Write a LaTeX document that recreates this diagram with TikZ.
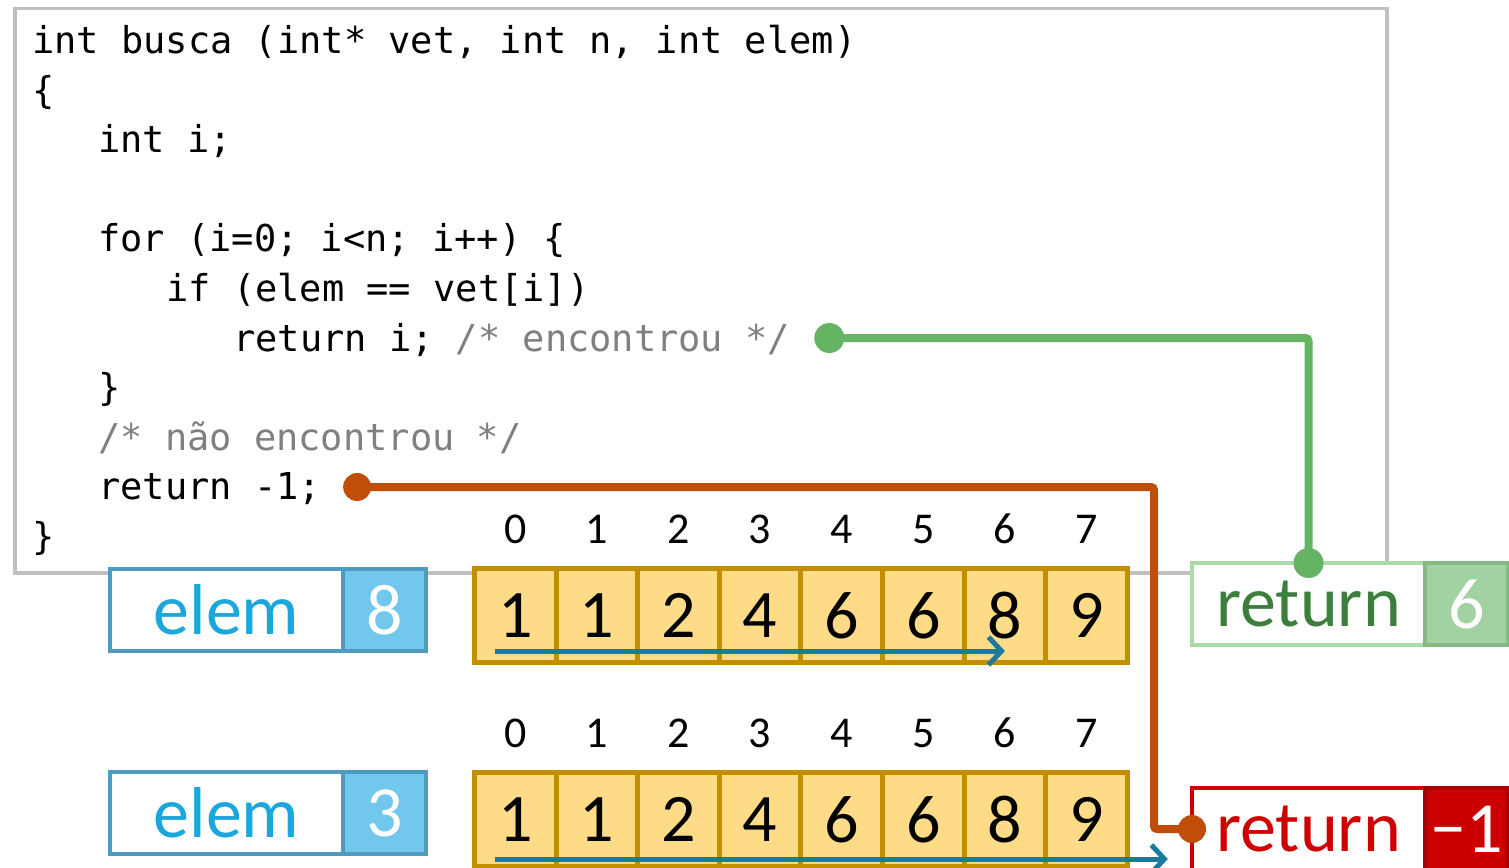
\documentclass[tikz,border=0pt]{standalone}
\usepackage{fontspec}
\setmainfont{Carlito}
\setmonofont{DejaVu Sans Mono}
\usetikzlibrary{arrows.meta,positioning,calc}

\definecolor{codegray}{HTML}{C0C0C0}
\definecolor{cmtgray}{HTML}{808080}
\definecolor{elemblue}{HTML}{1BA6DE}
\definecolor{elemedge}{HTML}{4E9BBF}
\definecolor{elemfill}{HTML}{72C8EC}
\definecolor{cellfill}{HTML}{FEDB86}
\definecolor{celledge}{HTML}{C38F00}
\definecolor{scanblue}{HTML}{1D7A9E}
\definecolor{okgreen}{HTML}{64B464}
\definecolor{okdark}{HTML}{3C7F3C}
\definecolor{okedge}{HTML}{A9DCA9}
\definecolor{okfill}{HTML}{A2D2A2}
\definecolor{failred}{HTML}{D00000}
\definecolor{failfill}{HTML}{CC0000}
\definecolor{wireorange}{HTML}{C04E08}

\begin{document}
\begin{tikzpicture}[
    x=1pt, y=-1pt,
    >={Straight Barb[length=13pt,width=28pt]},
    code/.style={anchor=base west, inner sep=0pt, font=\ttfamily\fontsize{37}{44}\selectfont},
    big/.style={font=\fontsize{72}{80}\selectfont},
    lblbox/.style={draw, line width=3.5pt, fill=white, minimum width=233pt, outer sep=0pt,
        minimum height=82pt, inner sep=0pt, big, anchor=north west},
    valbox/.style={draw, line width=3.5pt, minimum width=83pt, minimum height=82pt,
        outer sep=0pt, inner sep=0pt, big, text=white, anchor=west},
    cell/.style={draw=celledge, line width=5pt, fill=cellfill, minimum width=81.6pt,
        minimum height=94pt, inner sep=0pt, font=\fontsize{68}{76}\selectfont, anchor=north west},
    idx/.style={inner sep=0pt, font=\fontsize{44}{50}\selectfont},
    wire/.style={line width=8pt, rounded corners=3pt},
    scan/.style={->, draw=scanblue, line width=5pt},
]
\useasboundingbox (0,0) rectangle (1509,867);

% codigo da funcao
\node[draw=codegray, line width=3.5pt, fill=white, minimum width=1372pt,
      minimum height=564pt, inner sep=0pt, anchor=north west] (codebox) at (13,7) {};
\node[code] (l0) at (32,53) {int busca (int* vet, int n, int elem)};
\node[code] (l1) at (32,103) {\{};
\node[code] (l2) at (98,152) {int i;};
\node[code] (l4) at (98,251) {for (i=0; i<n; i++) \{};
\node[code] (l5) at (166,301) {if (elem == vet[i])};
\node[code] (l6) at (233,351) {return i; {\color{cmtgray}/* encontrou */}};
\node[code] (l7) at (98,400) {\}};
\node[code] (l8) at (98,450) {\color{cmtgray}/* não encontrou */};
\node[code] (l9) at (98,499) {return -1;};
\node[code] (l10) at (32,549) {\}};

% primeira busca: elem = 8
\node[lblbox, draw=elemedge, text=elemblue] (e1) at (110,569) {elem};
\node[valbox, draw=elemedge, fill=elemfill] (v1) at (e1.east) {8};
\foreach \v [count=\i from 0] in {1,1,2,4,6,6,8,9} {
  \node[cell] (ca\i) at (472+81.6*\i,566) {\v};
  \node[idx, above=22pt of ca\i] (ia\i) {\i};
}

% segunda busca: elem = 3
\node[lblbox, draw=elemedge, text=elemblue] (e2) at (110,772) {elem};
\node[valbox, draw=elemedge, fill=elemfill] (v2) at (e2.east) {3};
\foreach \v [count=\i from 0] in {1,1,2,4,6,6,8,9} {
  \node[cell] (cb\i) at (472+81.6*\i,770) {\v};
  \node[idx, above=22pt of cb\i] (ib\i) {\i};
}

% retornos
\node[lblbox, draw=okedge, text=okdark] (r1) at (1192,563) {return};
\node[valbox, draw=okfill!70!okdark, fill=okfill] (rv1) at (r1.east) {6};
\node[lblbox, draw=failred, text=failred] (r2) at (1192,788) {return};
\node[valbox, draw=failred!80!black, fill=failfill] (rv2) at (r2.east) {\char"2212 1};

% varredura
\coordinate (s1a) at ([xshift=-20pt,yshift=14pt]ca0.south);
\coordinate (s1b) at ([yshift=14pt]ca6.south);
\draw[scan] (s1a) -- (s1b);
\coordinate (s2a) at ([xshift=-20pt,yshift=10pt]cb0.south);
\coordinate (s2b) at ([xshift=38pt,yshift=10pt]cb7.south east);
\draw[scan] (s2a) -- (s2b);

% ligacoes
\coordinate (gsrc) at ([xshift=39pt,yshift=13pt]l6.base east);
\coordinate (osrc) at ([xshift=36pt,yshift=12pt]l9.base east);
\coordinate (obend) at ([xshift=-38pt]r2.west);
\draw[wire, okgreen] (gsrc) -| (r1.north);
\draw[wire, wireorange] (osrc) -| (obend) -- (r2.west);
\fill[okgreen] (gsrc) circle (15pt) (r1.north) circle (15pt);
\fill[wireorange] (osrc) circle (14pt) (r2.west) circle (14pt);

\end{tikzpicture}
\end{document}
